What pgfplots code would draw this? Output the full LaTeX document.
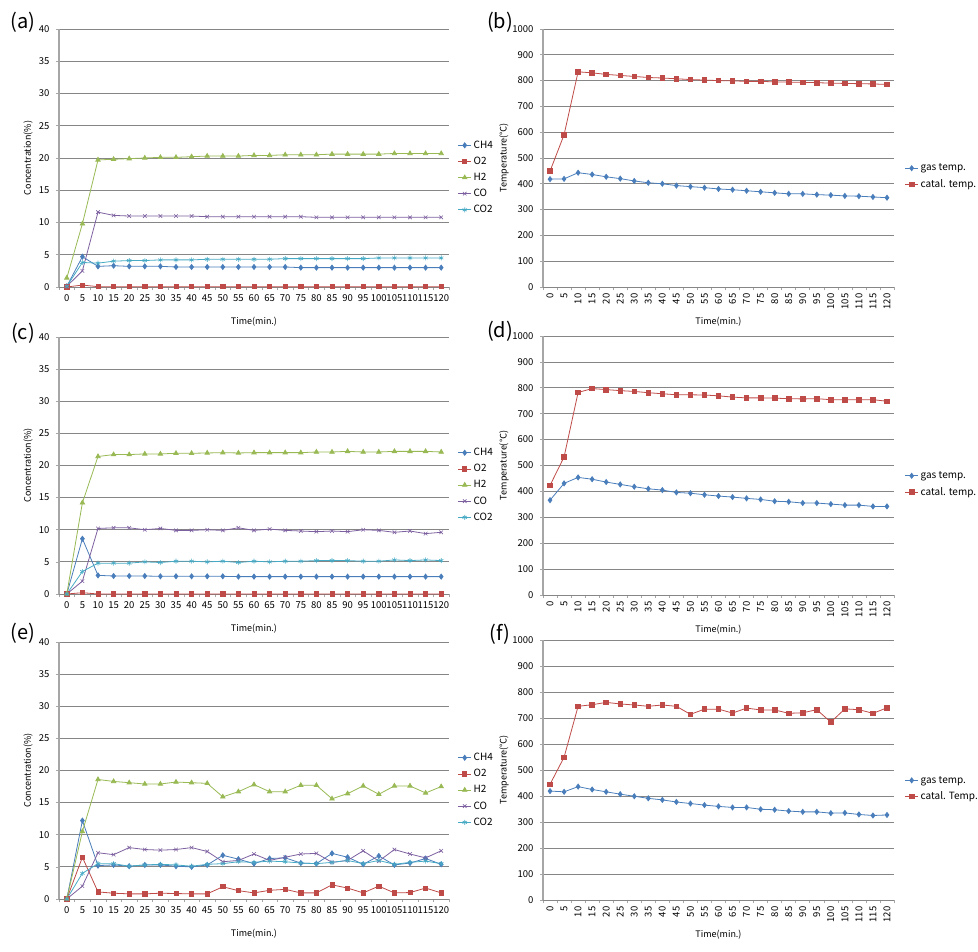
\documentclass[border=0pt]{standalone}
\usepackage{fontspec}
\setmainfont{Noto Sans CJK KR}
\usepackage{pgfplots}
\usepackage{pgfplotstable}
\pgfplotsset{compat=1.18}

\definecolor{cCH}{HTML}{4A7EBB}
\definecolor{cO}{HTML}{BE4B48}
\definecolor{cH}{HTML}{98B954}
\definecolor{cCO}{HTML}{7D60A0}
\definecolor{cCOt}{HTML}{46AAC5}
\definecolor{gridc}{HTML}{868686}
\definecolor{axc}{HTML}{A6A6A6}

\pgfplotstableread{
t CH4 O2 H2 CO CO2
0 0.1 0.0 1.4 0.1 0.1
5 4.7 0.3 9.8 2.5 3.8
10 3.2 0.05 19.7 11.6 3.7
15 3.3 0.05 19.8 11.1 4.0
20 3.2 0.05 19.9 11.0 4.1
25 3.2 0.05 20.0 11.0 4.1
30 3.2 0.05 20.1 11.0 4.2
35 3.1 0.05 20.1 11.0 4.2
40 3.1 0.05 20.2 11.0 4.2
45 3.1 0.05 20.3 10.9 4.3
50 3.1 0.05 20.3 10.9 4.3
55 3.1 0.05 20.3 10.9 4.3
60 3.1 0.05 20.4 10.9 4.3
65 3.1 0.05 20.4 10.9 4.3
70 3.1 0.05 20.5 10.9 4.4
75 3.0 0.05 20.5 10.9 4.4
80 3.0 0.05 20.5 10.8 4.4
85 3.0 0.05 20.6 10.8 4.4
90 3.0 0.05 20.6 10.8 4.4
95 3.0 0.05 20.6 10.8 4.4
100 3.0 0.05 20.6 10.8 4.5
105 3.0 0.05 20.7 10.8 4.5
110 3.0 0.05 20.7 10.8 4.5
115 3.0 0.05 20.7 10.8 4.5
120 3.0 0.05 20.7 10.8 4.5
}\tabA

\pgfplotstableread{
t gas catal
0 418 449
5 419 590
10 443 834
15 436 830
20 427 824
25 420 820
30 411 816
35 404 812
40 400 810
45 393 807
50 389 804
55 385 802
60 380 800
65 377 799
70 373 797
75 369 797
80 365 795
85 361 794
90 361 793
95 358 792
100 356 790
105 353 789
110 352 788
115 349 787
120 346 785
}\tabB

\pgfplotstableread{
t CH4 O2 H2 CO CO2
0 0 0 0 0 0
5 8.6 0.2 14.2 2.0 3.5
10 2.9 0 21.4 10.2 4.8
15 2.8 0 21.7 10.3 4.8
20 2.8 0 21.7 10.3 4.8
25 2.8 0 21.8 10.0 5.0
30 2.75 0 21.8 10.2 4.9
35 2.75 0 21.9 9.9 5.1
40 2.75 0 21.9 9.9 5.1
45 2.75 0 21.95 10.0 5.0
50 2.75 0 22.0 9.9 5.1
55 2.7 0 21.95 10.3 4.9
60 2.7 0 22.0 9.9 5.1
65 2.7 0 22.0 10.1 5.0
70 2.7 0 22.0 9.9 5.1
75 2.7 0 22.0 9.8 5.1
80 2.7 0 22.1 9.7 5.2
85 2.7 0 22.1 9.8 5.2
90 2.7 0 22.2 9.7 5.2
95 2.7 0 22.1 10.0 5.1
100 2.7 0 22.1 9.9 5.1
105 2.7 0 22.2 9.6 5.3
110 2.7 0 22.2 9.8 5.2
115 2.7 0 22.2 9.4 5.3
120 2.7 0 22.1 9.6 5.2
}\tabC

\pgfplotstableread{
t gas catal
0 366 423
5 431 533
10 454 782
15 447 797
20 436 793
25 427 789
30 418 786
35 410 781
40 405 777
45 396 773
50 393 773
55 387 772
60 382 769
65 378 764
70 373 761
75 369 761
80 362 760
85 360 758
90 355 757
95 355 758
100 351 754
105 347 754
110 347 754
115 342 754
120 342 748
}\tabD

\pgfplotstableread{
t CH4 O2 H2 CO CO2
0 0 0 0 0 0
5 12.2 6.5 10.5 2.0 4.0
10 5.2 1.1 18.6 7.2 5.5
15 5.3 0.9 18.3 6.9 5.5
20 5.1 0.8 18.1 8.0 5.1
25 5.3 0.8 17.9 7.7 5.3
30 5.3 0.9 17.9 7.6 5.4
35 5.1 0.85 18.2 7.7 5.3
40 5.0 0.8 18.1 8.0 5.1
45 5.3 0.8 18.0 7.4 5.4
50 6.8 1.9 15.9 5.8 5.5
55 6.2 1.3 16.7 6.0 5.8
60 5.5 0.95 17.8 7.0 5.7
65 6.3 1.35 16.7 6.0 5.9
70 6.4 1.5 16.7 6.5 5.8
75 5.6 0.95 17.7 7.0 5.6
80 5.5 0.95 17.7 7.1 5.5
85 7.1 2.2 15.6 5.7 5.7
90 6.5 1.7 16.4 6.0 6.0
95 5.4 0.95 17.6 7.5 5.5
100 6.7 2.0 16.3 5.9 6.0
105 5.3 0.95 17.6 7.7 5.4
110 5.6 1.0 17.6 7.0 5.7
115 6.3 1.7 16.5 6.4 5.9
120 5.4 0.95 17.5 7.5 5.5
}\tabE

\pgfplotstableread{
t gas catal
0 419 445
5 416 549
10 436 745
15 425 751
20 416 760
25 407 754
30 399 750
35 391 745
40 385 750
45 377 745
50 371 714
55 365 734
60 360 734
65 356 719
70 356 738
75 349 731
80 347 731
85 342 718
90 339 720
95 339 732
100 334 684
105 335 735
110 329 732
115 325 718
120 327 739
}\tabF

\pgfplotsset{
  base/.style={
    scale only axis, anchor=south west, clip=false,
    axis x line*=bottom, axis y line*=left,
    xmin=-2.5, xmax=122.5,
    xtick={0,5,...,120},
    minor xtick={-2.5,2.5,...,122.5},
    tick align=outside,
    major tick length=3pt, minor tick length=3.5pt,
    major x tick style={draw=none},
    every tick/.style={axc, line width=0.6pt},
    ymajorgrids, major grid style={gridc, line width=0.75pt},
    x axis line style={gridc, line width=0.75pt},
    y axis line style={axc, line width=1.8pt},
    tick label style={font=\fontsize{9.5}{10}\selectfont},
    /pgf/number format/assume math mode=true,
    /pgf/number format/1000 sep={},
    label style={font=\fontsize{9}{10}\selectfont},
    xlabel={Time(min.)},
    xlabel style={at={(axis description cs:0.5,0)}, anchor=center, yshift=-35pt},
    legend style={draw=none, fill=none, font=\fontsize{10}{11}\selectfont, row sep=3.2pt, inner sep=0pt},
    legend cell align=left,
    legend image code/.code={\draw[mark repeat=2,mark phase=2] plot coordinates {(0cm,0cm) (0.23cm,0cm) (0.46cm,0cm)};},
  },
  conc/.style={base,
    width=390pt, ymin=0, ymax=40, ytick={0,5,...,40},
    yticklabel style={xshift=-3pt},
    xticklabel style={yshift=-1pt},
    ylabel={Concentration(\%)},
    ylabel style={at={(axis description cs:-0.079,0.5)}, anchor=center},
    legend style={at={(axis description cs:1.022,0.424)}, anchor=west},
  },
  temp/.style={base,
    width=351pt, ymin=0, ymax=1000, ytick={0,100,...,1000},
    yticklabel style={xshift=-3pt},
    xticklabel style={rotate=90, anchor=east},
    ylabel={Temperature(℃)},
    ylabel style={at={(axis description cs:-0.111,0.5)}, anchor=center},
    legend style={at={(axis description cs:1.03,0.428)}, anchor=west},
  },
  sCH/.style={color=cCH, line width=0.8pt, mark=diamond*, mark size=2.5pt, mark options={fill=cCH, draw=cCH}},
  sO/.style={color=cO, line width=0.8pt, mark=square*, mark size=2.1pt, mark options={fill=cO, draw=cO}},
  sH/.style={color=cH, line width=0.8pt, mark=triangle*, mark size=2.5pt, mark options={fill=cH, draw=cH}},
  sCO/.style={color=cCO, line width=0.8pt, mark=x, mark size=2.5pt, mark options={draw=cCO, line width=0.6pt}},
  sCOt/.style={color=cCOt, line width=0.8pt, mark=asterisk, mark size=2.5pt, mark options={draw=cCOt, line width=0.6pt}},
  sG/.style={color=cCH, line width=0.8pt, mark=diamond*, mark size=2.5pt, mark options={fill=cCH, draw=cCH}},
  sC/.style={color=cO, line width=0.8pt, mark=square*, mark size=2.3pt, mark options={fill=cO, draw=cO}},
}

\begin{document}
\begin{tikzpicture}[x=1pt,y=1pt]
\useasboundingbox (0,0) rectangle (978,952);

% (a)
\begin{axis}[conc, at={(59pt,665pt)}, height=258pt]
\addplot[sCH] table[x=t,y=CH4] {\tabA}; \addlegendentry{CH4}
\addplot[sO] table[x=t,y=O2] {\tabA}; \addlegendentry{O2}
\addplot[sH] table[x=t,y=H2] {\tabA}; \addlegendentry{H2}
\addplot[sCO] table[x=t,y=CO] {\tabA}; \addlegendentry{CO}
\addplot[sCOt] table[x=t,y=CO2] {\tabA}; \addlegendentry{CO2}
\end{axis}

% (b)
\begin{axis}[temp, at={(543pt,665pt)}, height=258pt]
\addplot[sG] table[x=t,y=gas] {\tabB}; \addlegendentry{gas temp.}
\addplot[sC] table[x=t,y=catal] {\tabB}; \addlegendentry{catal. temp.}
\end{axis}

% (c)
\begin{axis}[conc, at={(59pt,358pt)}, height=257pt]
\addplot[sCH] table[x=t,y=CH4] {\tabC}; \addlegendentry{CH4}
\addplot[sO] table[x=t,y=O2] {\tabC}; \addlegendentry{O2}
\addplot[sH] table[x=t,y=H2] {\tabC}; \addlegendentry{H2}
\addplot[sCO] table[x=t,y=CO] {\tabC}; \addlegendentry{CO}
\addplot[sCOt] table[x=t,y=CO2] {\tabC}; \addlegendentry{CO2}
\end{axis}

% (d)
\begin{axis}[temp, at={(543pt,357pt)}, height=259pt]
\addplot[sG] table[x=t,y=gas] {\tabD}; \addlegendentry{gas temp.}
\addplot[sC] table[x=t,y=catal] {\tabD}; \addlegendentry{catal. temp.}
\end{axis}

% (e)
\begin{axis}[conc, at={(59pt,53pt)}, height=257pt]
\addplot[sCH] table[x=t,y=CH4] {\tabE}; \addlegendentry{CH4}
\addplot[sO] table[x=t,y=O2] {\tabE}; \addlegendentry{O2}
\addplot[sH] table[x=t,y=H2] {\tabE}; \addlegendentry{H2}
\addplot[sCO] table[x=t,y=CO] {\tabE}; \addlegendentry{CO}
\addplot[sCOt] table[x=t,y=CO2] {\tabE}; \addlegendentry{CO2}
\end{axis}

% (f)
\begin{axis}[temp, at={(543pt,52pt)}, height=260pt]
\addplot[sG] table[x=t,y=gas] {\tabF}; \addlegendentry{gas temp.}
\addplot[sC] table[x=t,y=catal] {\tabF}; \addlegendentry{catal. Temp.}
\end{axis}

\node[font=\fontsize{20}{20}\selectfont] at (23,930) {(a)};
\node[font=\fontsize{20}{20}\selectfont] at (500,930) {(b)};
\node[font=\fontsize{20}{20}\selectfont] at (23,619) {(c)};
\node[font=\fontsize{20}{20}\selectfont] at (500,621) {(d)};
\node[font=\fontsize{20}{20}\selectfont] at (23,319) {(e)};
\node[font=\fontsize{20}{20}\selectfont] at (500,318) {(f)};
\end{tikzpicture}
\end{document}
